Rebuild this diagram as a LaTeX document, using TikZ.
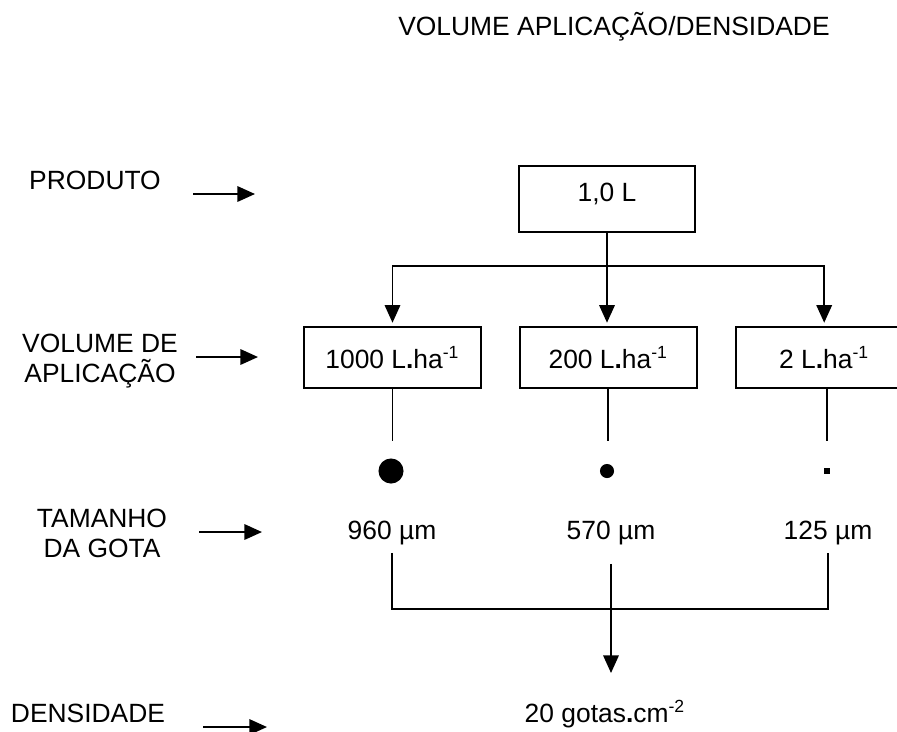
\documentclass[tikz,border=0pt]{standalone}
\usepackage{fontspec}
\setmainfont{Liberation Sans}
\usepackage{tikz}
\usetikzlibrary{arrows.meta, positioning}

\begin{document}
\begin{tikzpicture}[x=0.4545pt, y=-0.4545pt, line width=0.9pt, node distance=16.8pt,
        >={Triangle[length=8pt, width=7pt]},
        font=\fontsize{12}{13.64}\selectfont,
        box/.style={draw, rectangle, minimum width=80.4pt, minimum height=27.7pt},
        tag/.style={align=center},
        drop/.style={fill, inner sep=0pt}]
        \useasboundingbox (0,0) rectangle (897,731);

        % Title
        \node (title) [anchor=base] at (614,35) {VOLUME APLICAÇÃO/DENSIDADE};

        % Row labels
        \node (produto) [anchor=base] at (95,189) {PRODUTO};
        \node (volume) [tag] at (100,361) {VOLUME DE\\APLICAÇÃO};
        \node (tamanho) [tag] at (102,533) {TAMANHO\\DA GOTA};
        \node (densidade) [anchor=base] at (88,722) {DENSIDADE};

        % Row label arrows
        \coordinate (pa) at (193,194); \coordinate (pb) at (255,194);
        \coordinate (va) at (196,357); \coordinate (vb) at (258,357);
        \coordinate (ta) at (199,532); \coordinate (tb) at (262,532);
        \coordinate (da) at (203,727); \coordinate (db) at (267,727);
        \draw[->] (pa) -- (pb);
        \draw[->] (va) -- (vb);
        \draw[->] (ta) -- (tb);
        \draw[->] (da) -- (db);

        % Product
        \node (litro) [box, minimum width=80pt, minimum height=30pt, text depth=5.9pt] at (607,199) {1,0 L};

        % Application volumes
        \node (v1) [box] at (392.5,357.5) {1000 L\textbf{.}ha\textsuperscript{-1}};
        \node (v2) [box, right=of v1] {200 L\textbf{.}ha\textsuperscript{-1}};
        \node (v3) [box, right=of v2] {2 L\textbf{.}ha\textsuperscript{-1}};

        % Arrows
        \coordinate (split) at (607,266);
        \draw[->, shorten >=1.5pt] (litro.south) -- (litro.south |- v2.north);
        \draw[->, shorten >=1.5pt] (split) -| (v1.north);
        \draw[->, shorten >=1.5pt] (split) -| (v3.north);

        % Drops
        \node (d1) [drop, circle, minimum size=11.4pt] at (391,471) {};
        \node (d2) [drop, circle, minimum size=6.4pt] at (607,471) {};
        \node (d3) [drop, rectangle, minimum size=2.3pt] at (827,471) {};

        \coordinate (stem) at (0,441);
        \draw (v1.south) -- (v1.south |- stem);
        \draw (v2.south) -- (v2.south |- stem);
        \draw (v3.south -| d3) -- (d3 |- stem);

        % Drop sizes
        \node (m1) [anchor=base] at (392,539) {960 µm};
        \node (m2) [anchor=base] at (611,539) {570 µm};
        \node (m3) [anchor=base] at (828,539) {125 µm};

        % Density
        \node (dens) [anchor=base] at (605,722) {20 gotas\textbf{.}cm\textsuperscript{-2}};

        \coordinate (join) at (611,609);
        \coordinate (tip) at (611,673);
        \draw (m1.south) |- (join) -| (m3.south);
        \draw[->] ([yshift=-5pt]m2.south) -- (tip);
    \end{tikzpicture}
\end{document}
